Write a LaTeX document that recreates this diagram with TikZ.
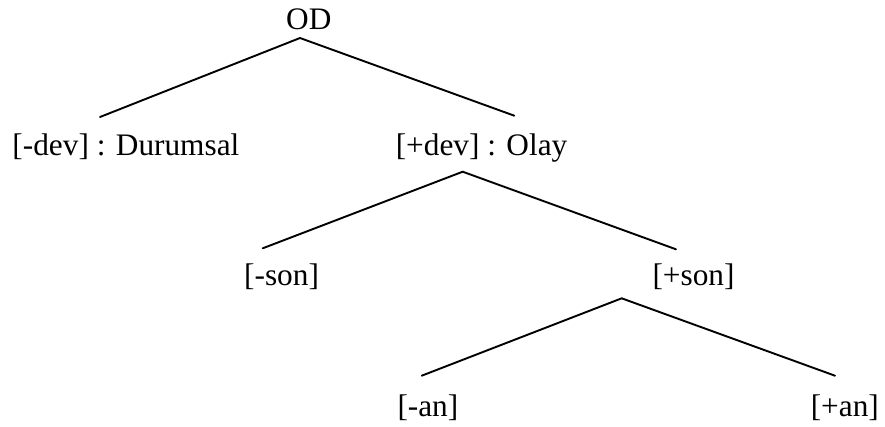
\documentclass[tikz,border=0pt]{standalone}
\usepackage{fontspec}
\setmainfont{Liberation Serif}
\begin{document}
\begin{tikzpicture}[x=1pt,y=-1pt,
  lbl/.style={inner sep=0pt, anchor=base west, font=\fontsize{31.3}{37}\selectfont},
  branch/.style={line width=1.9pt, line cap=round}]
\useasboundingbox (0,0) rectangle (885,426);
\node[lbl] (od) at (286,29) {OD};
\node[lbl] (devm) at (12.3,155) {[-dev] : Durumsal};
\node[lbl] (devp) at (395.6,155) {[+dev] : Olay};
\node[lbl] (sonm) at (244,285) {[-son]};
\node[lbl] (sonp) at (652.3,285) {[+son]};
\node[lbl] (anm) at (397.3,416) {[-an]};
\node[lbl] (anp) at (810.6,416) {[+an]};
\coordinate (a1) at (300,38);
\coordinate (l1) at (100,117);
\coordinate (r1) at (514.3,115.7);
\coordinate (a2) at (462.7,171.7);
\coordinate (l2) at (262.7,248.3);
\coordinate (r2) at (676,249.3);
\coordinate (a3) at (621.7,298.3);
\coordinate (l3) at (421.7,375.7);
\coordinate (r3) at (835,375.7);
\draw[branch] (l1) -- (a1) -- (r1);
\draw[branch] (l2) -- (a2) -- (r2);
\draw[branch] (l3) -- (a3) -- (r3);
\end{tikzpicture}
\end{document}
